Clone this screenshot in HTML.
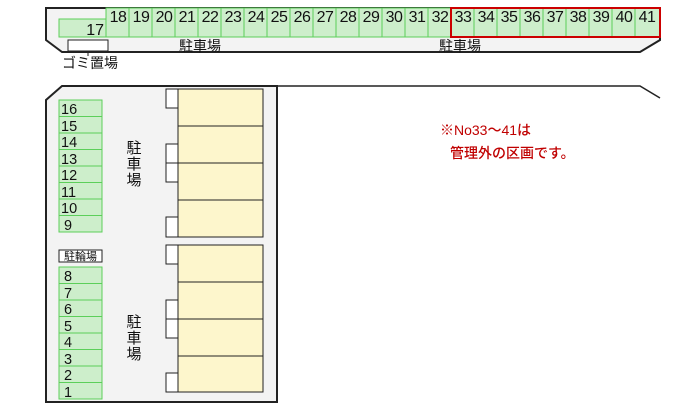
<!DOCTYPE html>
<html><head><meta charset="utf-8"><style>
body{margin:0;width:700px;height:410px;background:#fff;overflow:hidden;font-family:"Liberation Sans","Noto Sans CJK JP",sans-serif}
</style></head><body>
<svg width="700" height="410" xmlns="http://www.w3.org/2000/svg" font-family="Liberation Sans, Noto Sans CJK JP, sans-serif">
<polygon points="46,8 660,8 660,40 640,52 62,52 46,40" fill="#f3f3f3" stroke="#222" stroke-width="2"/>
<path d="M277,86 L62,86 L46,100 L46,402 L277,402 Z" fill="#f3f3f3" stroke="#222" stroke-width="2"/>
<path d="M277,86 L640,86 L660,98" fill="none" stroke="#222" stroke-width="1.5"/>
<rect x="59" y="19" width="47" height="18" fill="#cdeecb" stroke="#5ccf5a"/>
<text x="104" y="35" font-size="16" text-anchor="end" fill="#111">17</text>
<g font-size="16" fill="#111" text-anchor="middle" letter-spacing="-0.5">
<rect x="106" y="8" width="554" height="29" fill="#cdeecb" stroke="#5ccf5a"/>
<g stroke="#5ccf5a">
<line x1="129" y1="8" x2="129" y2="37"/><line x1="152" y1="8" x2="152" y2="37"/><line x1="175" y1="8" x2="175" y2="37"/><line x1="198" y1="8" x2="198" y2="37"/><line x1="221" y1="8" x2="221" y2="37"/><line x1="244" y1="8" x2="244" y2="37"/><line x1="267" y1="8" x2="267" y2="37"/><line x1="290" y1="8" x2="290" y2="37"/><line x1="313" y1="8" x2="313" y2="37"/><line x1="336" y1="8" x2="336" y2="37"/><line x1="359" y1="8" x2="359" y2="37"/><line x1="382" y1="8" x2="382" y2="37"/><line x1="405" y1="8" x2="405" y2="37"/><line x1="428" y1="8" x2="428" y2="37"/><line x1="451" y1="8" x2="451" y2="37"/><line x1="474" y1="8" x2="474" y2="37"/><line x1="497" y1="8" x2="497" y2="37"/><line x1="520" y1="8" x2="520" y2="37"/><line x1="543" y1="8" x2="543" y2="37"/><line x1="566" y1="8" x2="566" y2="37"/><line x1="589" y1="8" x2="589" y2="37"/><line x1="612" y1="8" x2="612" y2="37"/><line x1="635" y1="8" x2="635" y2="37"/>
</g>
<text x="118" y="22">18</text><text x="141" y="22">19</text><text x="164" y="22">20</text><text x="187" y="22">21</text><text x="210" y="22">22</text><text x="233" y="22">23</text><text x="256" y="22">24</text><text x="279" y="22">25</text><text x="302" y="22">26</text><text x="325" y="22">27</text><text x="348" y="22">28</text><text x="371" y="22">29</text><text x="394" y="22">30</text><text x="417" y="22">31</text><text x="440" y="22">32</text><text x="463" y="22">33</text><text x="486" y="22">34</text><text x="509" y="22">35</text><text x="532" y="22">36</text><text x="555" y="22">37</text><text x="578" y="22">38</text><text x="601" y="22">39</text><text x="624" y="22">40</text><text x="647" y="22">41</text>
</g>
<rect x="451" y="8" width="209" height="29" fill="none" stroke="#c00" stroke-width="2"/>
<rect x="68" y="40" width="40" height="11" fill="#fff" stroke="#222"/>
<line x1="88" y1="51" x2="88" y2="56" stroke="#222"/>
<text x="62" y="68" font-size="14" fill="#111">ゴミ置場</text>
<text x="200" y="51" font-size="14" fill="#111" text-anchor="middle">駐車場</text>
<text x="460" y="51" font-size="14" fill="#111" text-anchor="middle">駐車場</text>
<g font-size="14.5" fill="#111">
<rect x="59" y="100" width="43" height="132" fill="#cdeecb" stroke="#5ccf5a"/>
<rect x="59" y="267" width="43" height="132" fill="#cdeecb" stroke="#5ccf5a"/>
<g stroke="#5ccf5a">
<line x1="59" y1="116.5" x2="102" y2="116.5"/><line x1="59" y1="133" x2="102" y2="133"/><line x1="59" y1="149.5" x2="102" y2="149.5"/><line x1="59" y1="166" x2="102" y2="166"/><line x1="59" y1="182.5" x2="102" y2="182.5"/><line x1="59" y1="199" x2="102" y2="199"/><line x1="59" y1="215.5" x2="102" y2="215.5"/>
<line x1="59" y1="283.5" x2="102" y2="283.5"/><line x1="59" y1="300" x2="102" y2="300"/><line x1="59" y1="316.5" x2="102" y2="316.5"/><line x1="59" y1="333" x2="102" y2="333"/><line x1="59" y1="349.5" x2="102" y2="349.5"/><line x1="59" y1="366" x2="102" y2="366"/><line x1="59" y1="382.5" x2="102" y2="382.5"/>
</g>
<text x="61" y="114">16</text><text x="61" y="131">15</text><text x="61" y="147">14</text><text x="61" y="164">13</text><text x="61" y="180">12</text><text x="61" y="197">11</text><text x="61" y="213">10</text><text x="64" y="230">9</text>
<text x="64" y="281">8</text><text x="64" y="298">7</text><text x="64" y="314">6</text><text x="64" y="331">5</text><text x="64" y="347">4</text><text x="64" y="364">3</text><text x="64" y="380">2</text><text x="64" y="397">1</text>
<rect x="59" y="250" width="43" height="12" fill="#fff" stroke="#222"/>
<text x="80.5" y="260" font-size="11" text-anchor="middle">駐輪場</text>
</g>
<g fill="#fdf6cc" stroke="#222">
<rect x="178" y="89" width="85" height="37"/><rect x="178" y="126" width="85" height="37"/><rect x="178" y="163" width="85" height="37"/><rect x="178" y="200" width="85" height="37"/>
<rect x="178" y="245" width="85" height="37"/><rect x="178" y="282" width="85" height="37"/><rect x="178" y="319" width="85" height="37"/><rect x="178" y="356" width="85" height="36"/>
</g>
<g fill="#fff" stroke="#222">
<rect x="166" y="89" width="12" height="19"/><rect x="166" y="144" width="12" height="19"/><rect x="166" y="163" width="12" height="19"/><rect x="166" y="217" width="12" height="20"/>
<rect x="166" y="245" width="12" height="19"/><rect x="166" y="300" width="12" height="19"/><rect x="166" y="319" width="12" height="19"/><rect x="166" y="373" width="12" height="19"/>
</g>
<g font-size="15" fill="#111" text-anchor="middle">
<text x="134" y="153">駐</text><text x="134" y="169">車</text><text x="134" y="185">場</text>
<text x="134" y="327">駐</text><text x="134" y="343">車</text><text x="134" y="359">場</text>
</g>
<text x="440" y="135" font-size="14" font-weight="500" fill="#c00000">※No33～41は</text>
<text x="450" y="158" font-size="14" font-weight="500" fill="#c00000">管理外の区画です。</text>
</svg>
</body></html>
